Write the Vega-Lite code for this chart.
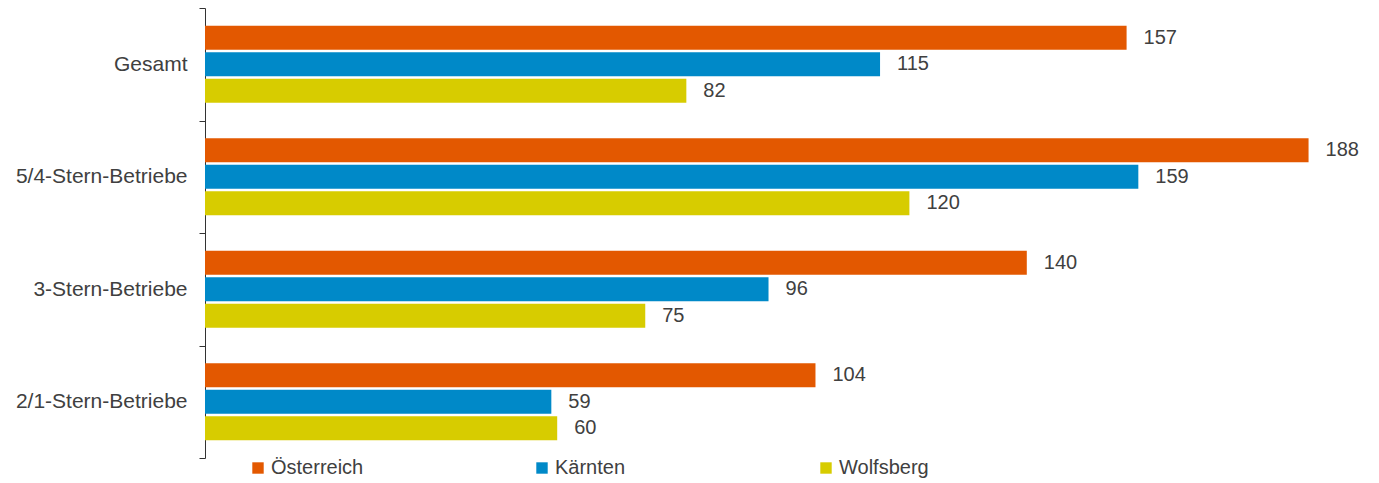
{
  "$schema": "https://vega.github.io/schema/vega-lite/v6.json",
  "width": 1174,
  "height": 450,
  "autosize": {"type": "none"},
  "padding": {"left": 205, "top": 8, "right": 0, "bottom": 25},
  "background": "white",
  "config": {
    "view": {"stroke": null},
    "font": "Liberation Sans",
    "text": {"font": "Liberation Sans"}
  },
  "data": {
    "values": [
      {"kategorie": "Gesamt", "region": "Österreich", "wert": 157},
      {"kategorie": "Gesamt", "region": "Kärnten", "wert": 115},
      {"kategorie": "Gesamt", "region": "Wolfsberg", "wert": 82},
      {"kategorie": "5/4-Stern-Betriebe", "region": "Österreich", "wert": 188},
      {"kategorie": "5/4-Stern-Betriebe", "region": "Kärnten", "wert": 159},
      {"kategorie": "5/4-Stern-Betriebe", "region": "Wolfsberg", "wert": 120},
      {"kategorie": "3-Stern-Betriebe", "region": "Österreich", "wert": 140},
      {"kategorie": "3-Stern-Betriebe", "region": "Kärnten", "wert": 96},
      {"kategorie": "3-Stern-Betriebe", "region": "Wolfsberg", "wert": 75},
      {"kategorie": "2/1-Stern-Betriebe", "region": "Österreich", "wert": 104},
      {"kategorie": "2/1-Stern-Betriebe", "region": "Kärnten", "wert": 59},
      {"kategorie": "2/1-Stern-Betriebe", "region": "Wolfsberg", "wert": 60}
    ]
  },
  "encoding": {
    "y": {
      "field": "kategorie",
      "type": "nominal",
      "sort": ["Gesamt", "5/4-Stern-Betriebe", "3-Stern-Betriebe", "2/1-Stern-Betriebe"],
      "scale": {"paddingInner": 0, "paddingOuter": 0},
      "axis": {
        "title": null,
        "tickBand": "extent",
        "tickSize": 6,
        "tickColor": "#333333",
        "domainColor": "#333333",
        "labelFontSize": 21,
        "labelColor": "#404040",
        "labelPadding": 12,
        "labelFont": "Liberation Sans",
        "labelLimit": 300
      }
    },
    "yOffset": {
      "field": "region",
      "type": "nominal",
      "sort": ["Österreich", "Kärnten", "Wolfsberg"],
      "scale": {"paddingInner": 0.094, "paddingOuter": 0.67}
    },
    "x": {
      "field": "wert",
      "type": "quantitative",
      "scale": {"domain": [0, 200], "nice": false},
      "axis": null
    }
  },
  "layer": [
    {
      "mark": {"type": "bar"},
      "encoding": {
        "color": {
          "field": "region",
          "type": "nominal",
          "sort": ["Österreich", "Kärnten", "Wolfsberg"],
          "scale": {
            "domain": ["Österreich", "Kärnten", "Wolfsberg"],
            "range": ["#E35800", "#0089C8", "#D7CC00"]
          },
          "legend": {
            "title": null,
            "orient": "none",
            "direction": "horizontal",
            "columns": 3,
            "gridAlign": "all",
            "columnPadding": 168,
            "legendX": 43,
            "legendY": 450,
            "symbolType": "square",
            "symbolSize": 130,
            "symbolStrokeWidth": 0,
            "labelFontSize": 20,
            "labelColor": "#404040",
            "labelOffset": 3,
            "labelFont": "Liberation Sans"
          }
        }
      }
    },
    {
      "mark": {"type": "text", "align": "left", "baseline": "middle", "dx": 17, "fontSize": 20, "color": "#404040", "font": "Liberation Sans"},
      "encoding": {
        "text": {"field": "wert", "type": "quantitative"}
      }
    }
  ]
}
